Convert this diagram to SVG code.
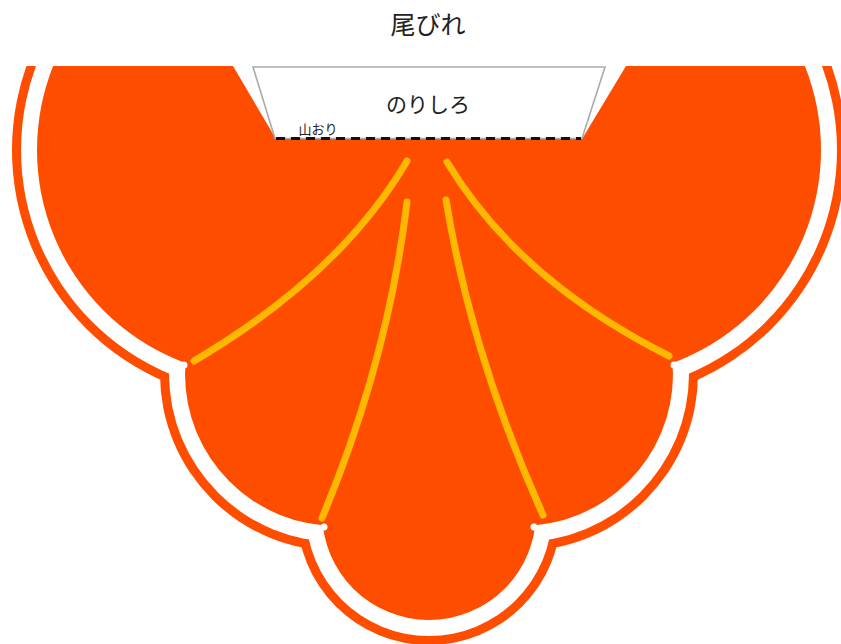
<svg xmlns="http://www.w3.org/2000/svg" width="841" height="644" viewBox="0 0 841 644">
  <style>
    .orange { fill: #FF4D00; }
    .white { fill: #FFFFFF; }
    .rib { fill: none; stroke: #FFB800; stroke-width: 7; stroke-linecap: round; }
    .label { font-family: "Noto Sans CJK JP", "Noto Sans", sans-serif; fill: #222222; text-anchor: middle; }
  </style>
  <defs>
    <clipPath id="belowTop">
      <rect x="0" y="66" width="841" height="578"/>
    </clipPath>
  </defs>
  <rect x="0" y="0" width="841" height="644" fill="#FFFFFF"/>

  <g id="fin" clip-path="url(#belowTop)">
    <g id="outer-rim" class="orange">
      <circle cx="264" cy="150" r="252"/>
      <circle cx="594" cy="150" r="252"/>
      <circle cx="337" cy="374" r="177"/>
      <circle cx="521" cy="374" r="177"/>
      <circle cx="429" cy="513" r="132"/>
    </g>
    <g id="white-band" class="white">
      <circle cx="264" cy="150" r="243"/>
      <circle cx="594" cy="150" r="243"/>
      <circle cx="337" cy="374" r="168"/>
      <circle cx="521" cy="374" r="168"/>
      <circle cx="429" cy="513" r="123"/>
    </g>
    <g id="fin-body" class="orange">
      <circle cx="264" cy="150" r="227"/>
      <circle cx="594" cy="150" r="227"/>
      <circle cx="337" cy="374" r="152"/>
      <circle cx="521" cy="374" r="152"/>
      <circle cx="429" cy="513" r="107"/>
    </g>
    <g id="junction-nubs" class="white">
      <circle cx="184" cy="365" r="3.5"/>
      <circle cx="674" cy="365" r="3.5"/>
      <circle cx="324" cy="527" r="3.5"/>
      <circle cx="534" cy="527" r="3.5"/>
    </g>
  </g>

  <polygon id="notch" class="white" points="233,66 276,139 582,139 626,66"/>

  <g id="ribs">
    <path class="rib" d="M407,161 Q340,275 194,361"/>
    <path class="rib" d="M407,202 Q388,360 322,518"/>
    <path class="rib" d="M446,200 Q472,357 543,515"/>
    <path class="rib" d="M447,162 Q518,280 669,356"/>
  </g>

  <g id="glue-tab">
    <polygon points="253,67 605,67 582,138.5 275,138.5" fill="#FFFFFF" stroke="#AAAAAA" stroke-width="1.6"/>
    <line x1="276" y1="138.5" x2="581" y2="138.5" stroke="#111111" stroke-width="3" stroke-dasharray="9 6"/>
    <text class="label" x="428" y="112" font-size="21">のりしろ</text>
    <text class="label" x="318" y="134" font-size="13">山おり</text>
  </g>

  <g id="title">
    <text class="label" x="428" y="34" font-size="25">尾びれ</text>
  </g>
</svg>
